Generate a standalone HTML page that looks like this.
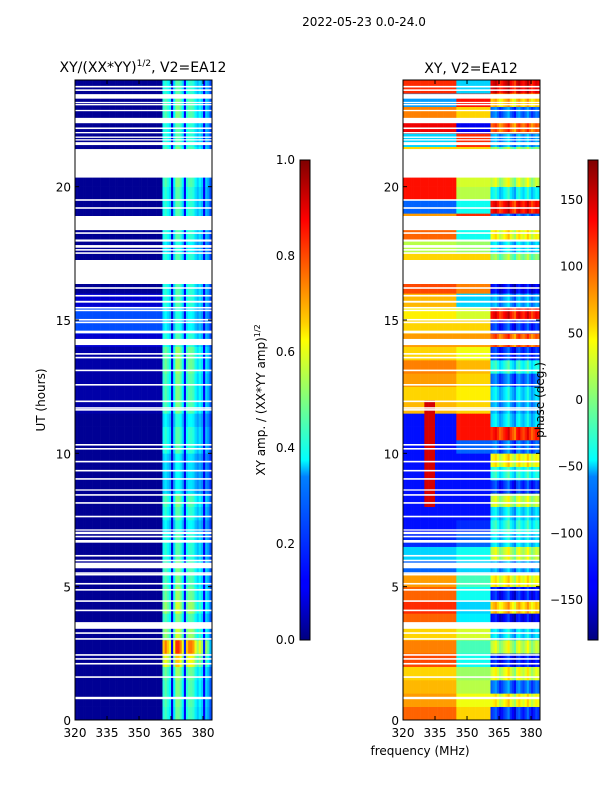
<!DOCTYPE html>
<html><head><meta charset="utf-8"><style>
body{margin:0;background:#fff}
svg{display:block;font-family:"DejaVu Sans","Liberation Sans",sans-serif}
</style></head><body>
<svg id="fig" width="600" height="800" viewBox="0 0 600 800" xmlns="http://www.w3.org/2000/svg">
<rect width="600" height="800" fill="#fff"/>
<defs>
<linearGradient id="jet" x1="0" y1="1" x2="0" y2="0">
<stop offset="0" stop-color="#00007f"/><stop offset="0.11" stop-color="#0000ff"/>
<stop offset="0.125" stop-color="#0000ff"/><stop offset="0.34" stop-color="#0080ff"/>
<stop offset="0.375" stop-color="#00ffff"/><stop offset="0.5" stop-color="#7fff7f"/>
<stop offset="0.625" stop-color="#ffff00"/><stop offset="0.66" stop-color="#ffd000"/>
<stop offset="0.875" stop-color="#ff0000"/><stop offset="1" stop-color="#7f0000"/>
</linearGradient>
</defs>
<text x="364" y="26" font-size="12" text-anchor="middle">2022-05-23 0.0-24.0</text>
<text x="143" y="72" font-size="14" text-anchor="middle">XY/(XX*YY)<tspan font-size="9" dy="-6">1/2</tspan><tspan dy="6">, V2=EA12</tspan></text>
<text x="471" y="73" font-size="14" text-anchor="middle">XY, V2=EA12</text>
<g id="left"></g>
<g id="right"></g>
<g id="axes"></g>
<rect x="300" y="160" width="10" height="480" fill="url(#jet)" stroke="#000" stroke-width="1"/>
<rect x="588" y="160" width="10" height="480" fill="url(#jet)" stroke="#000" stroke-width="1"/>
<text transform="translate(45,400) rotate(-90)" font-size="12" text-anchor="middle">UT (hours)</text>
<text x="420" y="755" font-size="12" text-anchor="middle">frequency (MHz)</text>
<text transform="translate(265,400) rotate(-90)" font-size="12" text-anchor="middle">XY amp. / (XX*YY amp)<tspan font-size="8" dy="-5">1/2</tspan></text>
<text transform="translate(544,400) rotate(-90)" font-size="12" text-anchor="middle">phase (deg.)</text>
</svg>
<script>
const NS="http://www.w3.org/2000/svg";
// data
const hourTicks=[0,5,10,15,20];
const freqTicks=[320,335,350,365,380];
const ampTicks=[0.0,0.2,0.4,0.6,0.8,1.0];
const phaseTicks=[-150,-100,-50,0,50,100,150];
const lowLevel=[0.02,0.02,0.02,0.02,0.02,0.02,0.02,0.02,0.02,0.02,0.02,0.02,0.02,0.02,0.02,0.02,0.02,0.02,0.02,0.02,0.02,0.02,0.02,0.04,0.04,0.04,0.04,0.04,0.08,0.2,0.2,0.08,0.02,0.02,0.02,0.02,0.02,0.02,0.02,0.02,0.02,0.02,0.02,0.02,0.02,0.02,0.02,0.02];
const highLevel=[0.4,0.42,0.42,0.45,0.6,0.75,0.5,0.42,0.5,0.45,0.42,0.42,0.38,0.38,0.33,0.38,0.42,0.3,0.3,0.3,0.38,0.38,0.33,0.42,0.42,0.42,0.45,0.45,0.38,0.33,0.33,0.38,0.38,0.38,0.38,0.33,0.38,0.38,0.38,0.38,0.42,0.42,0.42,0.38,0.38,0.42,0.42,0.38];
const chanProfile=[0.8,0.9,0.8,0.7,0.05,0.7,1.0,1.0,0.9,0.7,0.1,0.8,0.9,0.9,0.85,0.7,0.6,0.7,0.6,0.1,0.6,0.5,0.3];
const phaseA=[100,80,70,60,110,90,60,100,120,100,80,-100,-60,-120,-130,-130,-130,-130,-130,-130,-130,-130,-130,70,60,80,90,60,80,60,50,70,110,60,60,20,100,80,-100,130,130,60,60,-60,140,90,-80,120];
const phaseB=[60,40,20,10,-40,-20,30,-50,-60,-40,-20,-60,-40,-100,-120,-130,-130,-130,-130,-130,-100,130,130,60,50,60,70,40,80,60,30,-60,90,60,60,10,-40,120,-40,20,30,60,60,120,-140,60,130,-60];
const phaseC=[-120,40,-100,30,-130,20,-60,-140,60,-130,40,-80,20,-60,-40,-60,20,-120,-40,40,-100,120,-60,-80,-60,-100,-40,-120,100,-120,130,-80,-140,0,0,-60,40,-100,130,-50,20,0,0,-80,100,-100,60,140];
const chanPhaseOffset=[0,10,20,0,-20,-10,5,15,30,0,-15,-30,10,20,0,-10,5,25,0,-20,-5,10,0];
const stripeStart=[8.3], stripeEnd=[11.6], stripeF0=[330], stripeF1=[335], stripePhase=[150];
const gapStart=[23.72,23.59,23.3,23.13,23.05,22.83,22.38,22.16,22.0,21.83,21.73,21.56,20.34,19.47,19.17,18.37,18.23,17.94,17.71,17.6,17.48,16.35,16.17,15.88,15.65,15.43,15.33,14.98,14.88,14.5,14.06,13.7,13.56,13.08,12.54,11.92,11.67,11.6,10.29,10.14,9.66,9.32,9.01,8.6,8.41,8.11,7.6,7.1,6.97,6.85,6.65,6.13,5.95,5.69,5.48,5.42,5.08,4.85,4.43,4.08,3.42,3.23,3.01,2.41,2.26,2.08,1.58,0.78];
const gapEnd=[23.78,23.65,23.47,23.18,23.1,22.88,22.58,22.22,22.05,21.88,21.78,21.67,21.41,19.53,19.23,18.9,18.29,18.02,17.81,17.66,17.54,17.25,16.23,15.94,15.72,15.49,15.39,15.04,14.94,14.6,14.29,13.76,13.62,13.14,12.6,11.98,11.73,11.66,10.35,10.2,9.72,9.38,9.07,8.65,8.47,8.17,7.66,7.15,7.06,6.91,6.75,6.19,6.01,5.9,5.54,5.48,5.14,4.91,4.49,4.14,3.67,3.29,3.07,2.47,2.32,2.14,1.64,0.87];

const Y0=720,Y1=80,F0=320,F1=384.2;
function yS(h){return Y0+(Y1-Y0)*h/24;}
function xS(f,left){return left+(f-F0)*(137/(F1-F0));}
function jet(v){v=Math.max(0,Math.min(1,v));const c=x=>Math.round(255*Math.max(0,Math.min(1,1.5-Math.abs(4*v-x))));return `rgb(${c(3)},${c(2)},${c(1)})`;}
function pn(p){return (p+180)/360;}
const L=document.getElementById('left'),R=document.getElementById('right'),A=document.getElementById('axes');
function rect(g,x,y,w,h,fill,name){const r=document.createElementNS(NS,'rect');r.setAttribute('x',x);r.setAttribute('y',y);r.setAttribute('width',w);r.setAttribute('height',h);r.setAttribute('fill',fill);


g.appendChild(r);return r;}
for(let r=0;r<48;r++){
  const h0=r*0.5,h1=h0+0.5,yt=yS(h1),hh=yS(h0)-yS(h1);
  for(let c=0;c<64;c++){
    const f=F0+c;
    let amp,ph;
    if(f<361){amp=lowLevel[r];}else{amp=highLevel[r]*(chanProfile[f-361]??0.3)+0.08;}
    if(f<345)ph=phaseA[r];else if(f<361)ph=phaseB[r];else ph=phaseC[r]+(chanPhaseOffset[f-361]??0);
    for(let k=0;k<stripeStart.length;k++){if(h0>=stripeStart[k]-0.3&&h1<=stripeEnd[k]+0.5&&f>=stripeF0[k]&&f<stripeF1[k])ph=stripePhase[k];}
    ph=((ph+180)%360+360)%360-180;
    const w=137/(F1-F0)+0.3;
    rect(L,xS(f,75),yt,w,hh+0.3,jet(amp),'amp-cell');
    rect(R,xS(f,403),yt,w,hh+0.3,jet(pn(ph)),'phase-cell');
  }
}
for(let i=0;i<gapStart.length;i++){
  const y=yS(gapEnd[i]),hh=yS(gapStart[i])-y;
  rect(L,75,y,137,hh,'#fff','amp-gap');
  rect(R,403,y,137,hh,'#fff','phase-gap');
}
function line(x1,y1,x2,y2,name){const l=document.createElementNS(NS,'line');l.setAttribute('x1',x1);l.setAttribute('y1',y1);l.setAttribute('x2',x2);l.setAttribute('y2',y2);l.setAttribute('stroke','#000');l.setAttribute('stroke-width','1');


A.appendChild(l);}
function text(x,y,s,anchor,name){const t=document.createElementNS(NS,'text');t.setAttribute('x',x);t.setAttribute('y',y);t.setAttribute('font-size','12');t.setAttribute('text-anchor',anchor);t.textContent=s;


A.appendChild(t);}
[75,403].forEach((left,pi)=>{
  const fr=document.createElementNS(NS,'rect');fr.setAttribute('x',left);fr.setAttribute('y',80);fr.setAttribute('width',137);fr.setAttribute('height',640);fr.setAttribute('fill','none');fr.setAttribute('stroke','#000');
  
  
  A.appendChild(fr);
  hourTicks.forEach(h=>{const y=yS(h);line(left,y,left+4,y,'y-tick');line(left+137,y,left+133,y,'y-tick');text(left-4,y+5,String(h),'end','y-tick-label');});
  freqTicks.forEach(f=>{const x=xS(f,left);line(x,720,x,716,'x-tick');line(x,80,x,84,'x-tick');text(x,737,String(f),'middle','x-tick-label');});
});
ampTicks.forEach(v=>{const y=640-480*v;line(300,y,303,y,'cbar-tick');line(310,y,307,y,'cbar-tick');text(295,y+4,v.toFixed(1),'end','amp-cbar-tick-label');});
phaseTicks.forEach(v=>{const y=400-v*480/360;line(588,y,591,y,'cbar-tick');line(598,y,595,y,'cbar-tick');text(583,y+4,v<0?'\u2212'+(-v):String(v),'end','phase-cbar-tick-label');});
</script>
</body></html>
